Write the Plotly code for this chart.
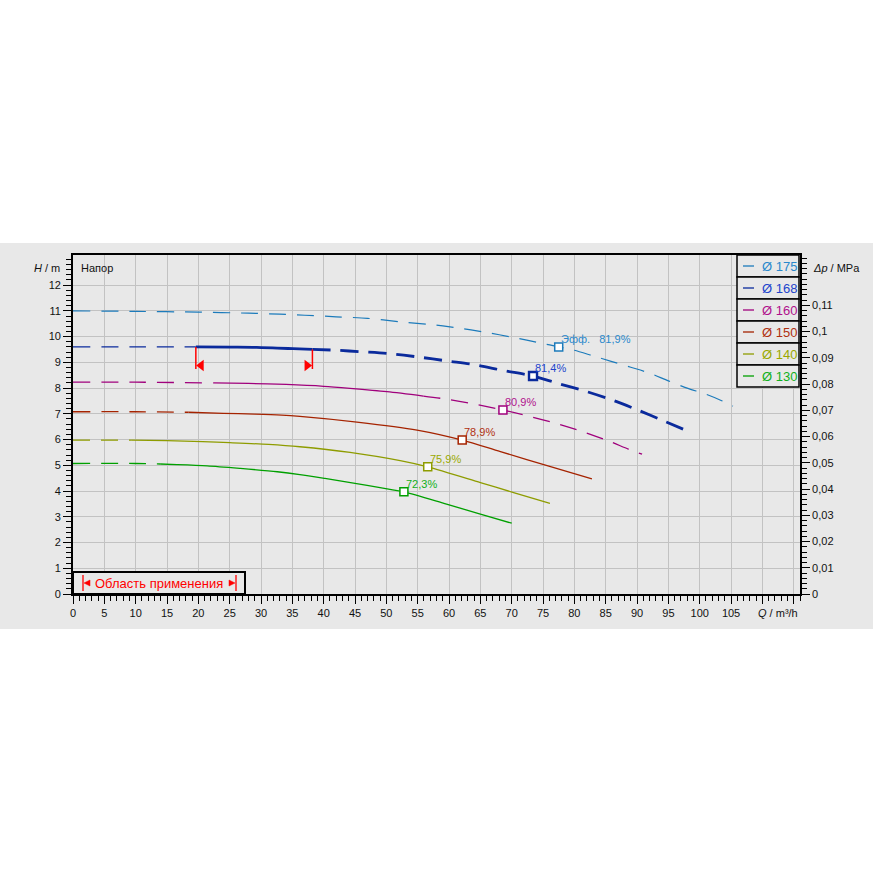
import plotly.graph_objects as go

# ---------------- data ----------------
DIAMETERS = [175, 168, 160, 150, 140, 130]

Q175 = [0, 10, 20, 28, 33, 37, 42, 47, 52, 57, 61, 66, 70, 75, 77.5, 80, 83, 86, 89, 92, 95, 98, 101, 103.6, 105.3]
H175 = [11.0, 10.98, 10.95, 10.91, 10.87, 10.83, 10.77, 10.71, 10.58, 10.47, 10.35, 10.16, 9.98, 9.73, 9.6, 9.47, 9.25, 9.03, 8.81, 8.58, 8.28, 8.0, 7.76, 7.5, 7.3]

Q168 = [0, 10, 19.6, 25, 29.3, 35.1, 38.2, 42, 46, 50.5, 55, 59.8, 64.3, 68.7, 73.4, 77.4, 81.6, 86, 90.1, 94.5, 97.4]
H168 = [9.6, 9.6, 9.6, 9.59, 9.58, 9.53, 9.5, 9.47, 9.41, 9.34, 9.21, 9.05, 8.9, 8.68, 8.47, 8.18, 7.89, 7.54, 7.15, 6.7, 6.4]

Q160 = [0, 10, 22.4, 28, 34, 40, 44.2, 50.1, 55.9, 59, 63.6, 68.6, 72.3, 76.9, 81.3, 85.6, 88.6, 90.8]
H160 = [8.23, 8.23, 8.2, 8.18, 8.14, 8.07, 7.99, 7.86, 7.69, 7.59, 7.4, 7.15, 6.93, 6.64, 6.31, 5.93, 5.63, 5.43]

Q150 = [0, 10, 18.4, 24, 29, 33.3, 36.2, 45.3, 54.9, 62.1, 68.2, 76.6, 82.8]
H150 = [7.08, 7.08, 7.06, 7.02, 6.99, 6.95, 6.9, 6.68, 6.37, 5.98, 5.53, 4.92, 4.47]

Q140 = [0, 9.4, 15, 20.7, 25, 31.2, 36.2, 44.2, 52.2, 56.6, 65, 70.3, 76.1]
H140 = [5.98, 5.98, 5.96, 5.92, 5.88, 5.81, 5.72, 5.5, 5.18, 4.94, 4.33, 3.94, 3.52]

Q130 = [0, 10, 13.9, 16.6, 21.4, 26.7, 32.6, 36.2, 40.2, 45, 49, 52.8, 59.6, 65, 70]
H130 = [5.07, 5.07, 5.05, 5.03, 4.98, 4.88, 4.75, 4.64, 4.49, 4.3, 4.13, 3.97, 3.49, 3.1, 2.75]

# best-efficiency points
EFF_Q = [77.5, 73.4, 68.6, 62.1, 56.6, 52.8]
EFF_H = [9.6, 8.47, 7.15, 5.98, 4.94, 3.97]
EFF_LABELS = ["Эфф.\u00a0\u00a0 81,9%", "81,4%", "80,9%", "78,9%", "75,9%", "72,3%"]

# operating range of the selected impeller (Ø168)
Q_RANGE = [19.6, 38.2]

X_TICKS = list(range(0, 120, 5))
X_TICK_TEXT = [str(v) if v <= 105 else "" for v in X_TICKS]
Y_TICKS = list(range(0, 13))
P_TICKS = [0, 0.01, 0.02, 0.03, 0.04, 0.05, 0.06, 0.07, 0.08, 0.09, 0.1, 0.11]
P_TICK_TEXT = ["0", "0,01", "0,02", "0,03", "0,04", "0,05", "0,06", "0,07", "0,08", "0,09", "0,1", "0,11"]

# ---------------- styling ----------------
COLORS = ["#1c7bbb", "#0a2a9c", "#a0007c", "#a52300", "#8e9c00", "#00a000"]
TEXT_COLORS = ["#2a88cc", "#2244cc", "#b0108c", "#b03010", "#9aa800", "#10b020"]
DASH = "17px,11px"

H_TOP = 13.17
MPA_PER_M = 0.00981
X_MAX = 116

# plot area in pixels
PL, PR, PT, PB = 73, 800, 255, 594
W, H = 873, 873


def px(xp):
    return (xp - PL) / (PR - PL)


def py(yp):
    return (PB - yp) / (PB - PT)


curves = [(Q175, H175), (Q168, H168), (Q160, H160), (Q150, H150), (Q140, H140), (Q130, H130)]
# (lo, hi, dash, width) per curve
STYLES = [
    [(0, 200, DASH, 1.2)],
    [(0, Q_RANGE[0], DASH, 1.3), (Q_RANGE[0], Q_RANGE[1], "solid", 2.8), (Q_RANGE[1], 200, "18px,10px", 2.8)],
    [(0, 22.4, DASH, 1.3), (22.4, 55.9, "solid", 1.3), (55.9, 200, DASH, 1.3)],
    [(0, 18.4, DASH, 1.3), (18.4, 200, "solid", 1.3)],
    [(0, 9.4, DASH, 1.3), (9.4, 200, "solid", 1.3)],
    [(0, 13.9, DASH, 1.3), (13.9, 200, "solid", 1.3)],
]

fig = go.Figure()

for i, (q, h) in enumerate(curves):
    for lo, hi, dash, wdt in STYLES[i]:
        idx = [k for k in range(len(q)) if lo <= q[k] <= hi]
        fig.add_trace(go.Scatter(
            x=[q[k] for k in idx], y=[h[k] for k in idx], mode="lines",
            line=dict(color=COLORS[i], width=wdt, dash=dash, shape="spline", smoothing=0.8),
            hoverinfo="skip", showlegend=False))

# efficiency markers
for i in range(len(EFF_Q)):
    fig.add_trace(go.Scatter(
        x=[EFF_Q[i]], y=[EFF_H[i]], mode="markers",
        marker=dict(symbol="square", size=8, color="white",
                    line=dict(color=COLORS[i], width=2.4 if i == 1 else 1.5)),
        hoverinfo="skip", showlegend=False))

# operating range markers (red)
h_lo = 8.74
h_at = [H168[Q168.index(Q_RANGE[0])], H168[Q168.index(Q_RANGE[1])]]
for qv, hv in zip(Q_RANGE, h_at):
    fig.add_trace(go.Scatter(x=[qv, qv], y=[hv, h_lo], mode="lines",
                             line=dict(color="#ff0000", width=1.5),
                             hoverinfo="skip", showlegend=False))
fig.add_trace(go.Scatter(x=[Q_RANGE[0] + 0.85], y=[8.88], mode="markers",
                         marker=dict(symbol="triangle-left", size=10, color="#ff0000"),
                         hoverinfo="skip", showlegend=False))
fig.add_trace(go.Scatter(x=[Q_RANGE[1] - 0.85], y=[8.88], mode="markers",
                         marker=dict(symbol="triangle-right", size=10, color="#ff0000"),
                         hoverinfo="skip", showlegend=False))

# invisible trace to activate right axis
fig.add_trace(go.Scatter(x=[0], y=[0], yaxis="y2", mode="markers",
                         marker=dict(opacity=0), hoverinfo="skip", showlegend=False))

FONT = "Liberation Sans, Arial, sans-serif"
tickfont = dict(family=FONT, size=11, color="#111111")
LBL = dict(family=FONT, size=11, color="#111111")

annotations = []
for i in range(len(EFF_Q)):
    annotations.append(dict(
        x=EFF_Q[i], y=EFF_H[i], xref="x", yref="y", text=EFF_LABELS[i],
        xanchor="left", yanchor="middle", xshift=0, yshift=8, showarrow=False,
        font=dict(family=FONT, size=11, color=TEXT_COLORS[i])))

annotations += [
    dict(x=px(62), y=py(268), xref="paper", yref="paper", text="<i>H</i> / m",
         xanchor="right", yanchor="middle", showarrow=False, font=LBL),
    dict(x=px(79), y=py(268), xref="paper", yref="paper", text="Напор",
         xanchor="left", yanchor="middle", showarrow=False, font=LBL),
    dict(x=px(811), y=py(268), xref="paper", yref="paper", text="<i>Δp</i> / MPa",
         xanchor="left", yanchor="middle", showarrow=False, font=LBL),
    dict(x=px(800), y=py(613), xref="paper", yref="paper", text="<i>Q</i> / m³/h",
         xanchor="right", yanchor="middle", showarrow=False, font=LBL),
    dict(x=px(159), y=py(583), xref="paper", yref="paper", text="Область применения",
         xanchor="center", yanchor="middle", showarrow=False, font=dict(family=FONT, size=13, color="#ff0000")),
]

shapes = [
    # grey band
    dict(type="rect", xref="paper", yref="paper", x0=px(0), x1=px(W), y0=py(629), y1=py(243),
         fillcolor="#e8e8e8", line=dict(width=0), layer="below"),
]

# legend
LEG_L, LEG_R, ROW = 737, 799, 22
for i, d in enumerate(DIAMETERS):
    top = PT + i * ROW
    shapes.append(dict(type="rect", xref="paper", yref="paper", x0=px(LEG_L), x1=px(LEG_R),
                       y0=py(top + ROW), y1=py(top), fillcolor="#e8e8e8",
                       line=dict(color="black", width=1.5), layer="above"))
    shapes.append(dict(type="line", xref="paper", yref="paper", x0=px(743), x1=px(754),
                       y0=py(top + ROW / 2), y1=py(top + ROW / 2),
                       line=dict(color=COLORS[i], width=1.3), layer="above"))
    annotations.append(dict(x=px(760), y=py(top + ROW / 2), xref="paper", yref="paper",
                            text="Ø " + str(d), xanchor="left", yanchor="middle", showarrow=False,
                            font=dict(family=FONT, size=13, color=TEXT_COLORS[i])))

# "Область применения" box
shapes.append(dict(type="rect", xref="paper", yref="paper", x0=px(73), x1=px(245),
                   y0=py(594), y1=py(572), fillcolor="#e8e8e8",
                   line=dict(color="black", width=2), layer="above"))
for xb in (83, 236):
    shapes.append(dict(type="line", xref="paper", yref="paper", x0=px(xb), x1=px(xb),
                       y0=py(591), y1=py(575), line=dict(color="#ff0000", width=1.3), layer="above"))
shapes.append(dict(type="path", xref="paper", yref="paper",
                   path=f"M {px(84)} {py(583)} L {px(90)} {py(580)} L {px(90)} {py(586)} Z",
                   fillcolor="#ff0000", line=dict(color="#ff0000", width=0.5), layer="above"))
shapes.append(dict(type="path", xref="paper", yref="paper",
                   path=f"M {px(235)} {py(583)} L {px(229)} {py(580)} L {px(229)} {py(586)} Z",
                   fillcolor="#ff0000", line=dict(color="#ff0000", width=0.5), layer="above"))

fig.update_layout(
    width=W, height=H,
    margin=dict(l=PL, r=W - PR, t=PT, b=H - PB, pad=0),
    paper_bgcolor="white", plot_bgcolor="#e8e8e8",
    showlegend=False,
    xaxis=dict(range=[0, X_MAX], tickmode="array", tickvals=X_TICKS, ticktext=X_TICK_TEXT,
               ticks="outside", ticklen=8, tickwidth=1.3, tickcolor="black",
               showline=True, linecolor="black", linewidth=1.8, mirror=True,
               showgrid=True, gridcolor="#c2c2c2", gridwidth=1.3, zeroline=False,
               tickfont=tickfont,
               minor=dict(tickmode="linear", tick0=0, dtick=1, ticks="outside", ticklen=5,
                          tickwidth=1.2, tickcolor="black", showgrid=False)),
    yaxis=dict(range=[0, H_TOP], tickmode="array", tickvals=Y_TICKS,
               ticks="outside", ticklen=8, tickwidth=1.3, tickcolor="black",
               showline=True, linecolor="black", linewidth=1.8,
               showgrid=True, gridcolor="#c2c2c2", gridwidth=1.3, zeroline=False,
               tickfont=tickfont,
               minor=dict(tickmode="linear", tick0=0, dtick=0.2, ticks="outside", ticklen=5,
                          tickwidth=1.2, tickcolor="black", showgrid=False)),
    yaxis2=dict(range=[0, H_TOP * MPA_PER_M], overlaying="y", side="right",
                tickmode="array", tickvals=P_TICKS, ticktext=P_TICK_TEXT,
                ticks="outside", ticklen=8, tickwidth=1.3, tickcolor="black",
                showline=True, linecolor="black", linewidth=1.8,
                showgrid=False, zeroline=False, tickfont=tickfont,
                minor=dict(tickmode="linear", tick0=0, dtick=0.002, ticks="outside", ticklen=5,
                           tickwidth=1.2, tickcolor="black", showgrid=False)),
    annotations=annotations,
    shapes=shapes,
)

fig.write_html("out.html", config={"displayModeBar": False},
               post_script="document.body.style.margin='0px';")
